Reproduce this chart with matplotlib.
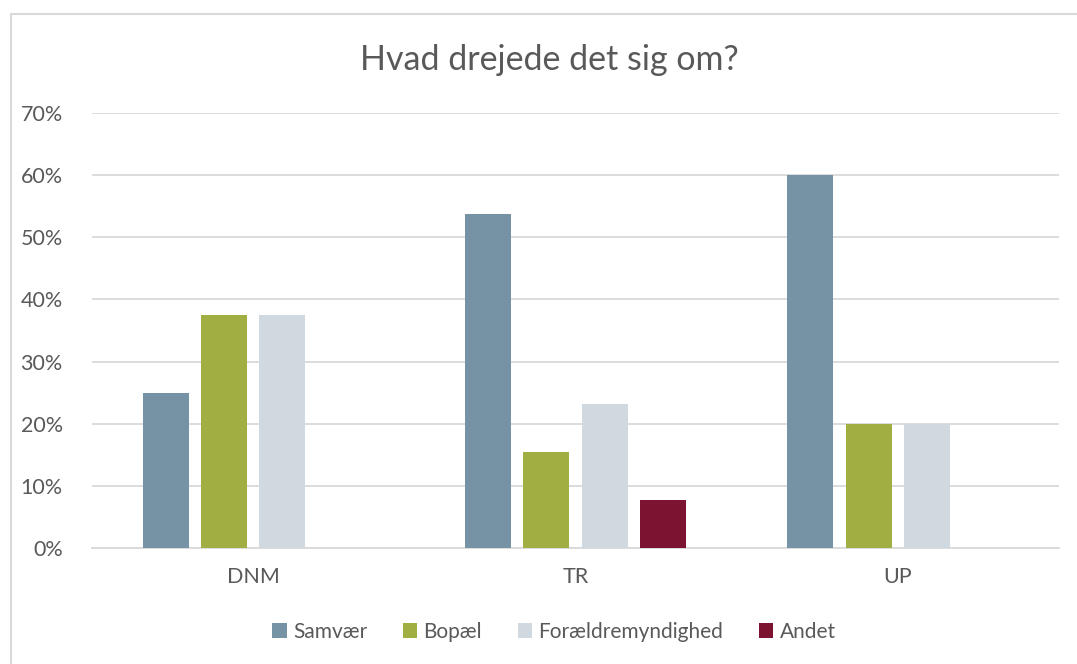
import matplotlib
matplotlib.use("Agg")
import matplotlib.pyplot as plt
from matplotlib.lines import Line2D
from matplotlib.ticker import FuncFormatter
import numpy as np

categories = ["DNM", "TR", "UP"]
series_names = ["Samvær", "Bopæl", "Forældremyndighed", "Andet"]
samvaer = [25.0, 53.8, 60.0]
bopael = [37.5, 15.4, 20.0]
foraeldre = [37.5, 23.1, 20.0]
andet = [0.0, 7.7, 0.0]
colors = ["#7593A5", "#A0AE42", "#D0D8E0", "#7B1331"]
yticks = [0, 10, 20, 30, 40, 50, 60, 70]

plt.rcParams['font.family'] = ['Lato', 'DejaVu Sans']
text_color = "#595959"

W, H = 1077, 664
fig = plt.figure(figsize=(W / 100, H / 100), dpi=100)
ax = fig.add_axes([92 / W, 1 - 548 / H, (1059 - 92) / W, (548 - 113) / H])

x = np.arange(len(categories))
step = 0.181
width = 0.142
data = [samvaer, bopael, foraeldre, andet]
for i, (name, vals, c) in enumerate(zip(series_names, data, colors)):
    ax.bar(x + (i - 1.5) * step, vals, width=width, color=c, label=name, zorder=3)

ax.set_xlim(-0.5, 2.5)
ax.set_ylim(0, 70)
ax.set_yticks(yticks)
ax.yaxis.set_major_formatter(FuncFormatter(lambda v, p: f"{int(v)}%"))
ax.set_xticks(x)
ax.set_xticklabels(categories)
ax.grid(axis='y', color="#D9D9D9", linewidth=1.3, zorder=0)
for s in ["top", "right", "left"]:
    ax.spines[s].set_visible(False)
ax.spines["bottom"].set_color("#D9D9D9")
ax.spines["bottom"].set_linewidth(1.3)
ax.tick_params(axis='both', length=0, labelsize=15.5, colors=text_color)
ax.tick_params(axis='y', pad=21)
ax.tick_params(axis='x', pad=14)

fig.text(549 / W, 1 - 60 / H, "Hvad drejede det sig om?", ha='center', va='center',
         fontsize=24.5, color=text_color)

leg = fig.legend(loc='center', bbox_to_anchor=(554 / W, 1 - 632 / H), ncol=4, frameon=False,
                 fontsize=15, handlelength=0.7, handleheight=0.7, columnspacing=1.7,
                 handletextpad=0.3)
for t in leg.get_texts():
    t.set_color(text_color)

fig.add_artist(Line2D([10.5 / W, 1], [1 - 13.5 / H, 1 - 13.5 / H], color="#D9D9D9", linewidth=1.5,
                      transform=fig.transFigure))
fig.add_artist(Line2D([10.5 / W, 10.5 / W], [0, 1 - 13.5 / H], color="#D9D9D9", linewidth=1.5,
                      transform=fig.transFigure))

fig.savefig("out.png", dpi=100)
